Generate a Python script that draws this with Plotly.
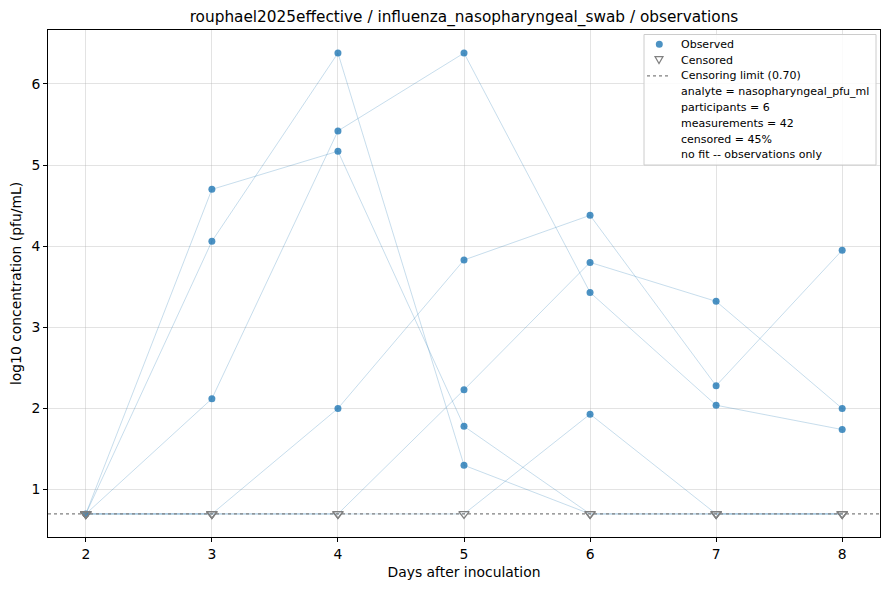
import plotly.graph_objects as go

days = [2, 3, 4, 5, 6, 7, 8]
limit = 0.70

# log10 pfu/mL per participant, one value per day
subjects = {
    "A": [0.70, 0.70, 2.00, 3.83, 4.38, 2.28, 3.95],
    "B": [0.70, 0.70, 0.70, 2.23, 3.80, 3.32, 2.00],
    "C": [0.70, 0.70, 0.70, 0.70, 1.93, 0.70, 0.70],
    "D": [0.70, 2.12, 5.42, 6.38, 3.43, 2.04, 1.74],
    "E": [0.70, 4.70, 5.17, 1.78, 0.70, 0.70, 0.70],
    "F": [0.70, 4.06, 6.38, 1.30, 0.70, 0.70, 0.70],
}
# 1 = below limit of detection
censored = {
    "A": [1, 1, 0, 0, 0, 0, 0],
    "B": [1, 1, 1, 0, 0, 0, 0],
    "C": [1, 1, 1, 1, 0, 1, 1],
    "D": [0, 0, 0, 0, 0, 0, 0],
    "E": [1, 0, 0, 0, 1, 1, 1],
    "F": [1, 0, 0, 0, 1, 1, 1],
}
legend_labels = ["Observed", "Censored", "Censoring limit (%.2f)" % limit]
info_lines = [
    "analyte = nasopharyngeal_pfu_ml",
    "participants = 6",
    "measurements = 42",
    "censored = 45%",
    "no fit -- observations only",
]

FONT = "DejaVu Sans"
BLUE = "rgba(31,119,180,0.8)"
fig = go.Figure()

for sid, vals in subjects.items():
    fig.add_trace(go.Scatter(x=days, y=vals, mode="lines",
                             line=dict(color="rgba(31,119,180,0.25)", width=1),
                             showlegend=False, hoverinfo="skip"))

obs_x, obs_y, cen_x, cen_y = [], [], [], []
for sid, vals in subjects.items():
    for d, v, c in zip(days, vals, censored[sid]):
        if c:
            cen_x.append(d); cen_y.append(v)
        else:
            obs_x.append(d); obs_y.append(v)

fig.add_trace(go.Scatter(x=obs_x, y=obs_y, mode="markers", showlegend=False,
                         marker=dict(color=BLUE, size=7, line=dict(width=0))))
fig.add_trace(go.Scatter(x=cen_x, y=cen_y, mode="markers", showlegend=False,
                         marker=dict(symbol="triangle-down-open", color="gray",
                                     size=9, line=dict(width=1.3))))
fig.add_hline(y=limit, line=dict(color="gray", width=1.3, dash="dot"))

# legend box drawn by hand (matplotlib-like row spacing)
PL, PR, PT, PB = 48, 880, 30, 537   # plot area in page pixels
def px(x):
    return (x - PL) / (PR - PL)
def py(y):
    return (PB - y) / (PB - PT)

fig.add_shape(type="rect", xref="paper", yref="paper",
              x0=px(644), x1=px(876), y0=py(34.5), y1=py(165),
              fillcolor="rgba(255,255,255,0.85)", line=dict(color="#cccccc", width=1))
row0, gap = 44.3, 15.8
fig.add_shape(type="circle", xref="paper", yref="paper",
              x0=px(655.8), x1=px(662.8), y0=py(row0 - 3.5), y1=py(row0 + 3.5),
              fillcolor=BLUE, line=dict(width=0))
r1 = row0 + gap
fig.add_shape(type="path", xref="paper", yref="paper",
              path="M %f %f L %f %f L %f %f Z" % (px(655), py(r1 - 3.5), px(663), py(r1 - 3.5),
                                                  px(659), py(r1 + 3.5)),
              line=dict(color="gray", width=1.2))
r2 = row0 + 2 * gap
fig.add_shape(type="line", xref="paper", yref="paper",
              x0=px(647), x1=px(670), y0=py(r2), y1=py(r2),
              line=dict(color="gray", width=1.3, dash="dot"))
for i, t in enumerate(legend_labels + info_lines):
    fig.add_annotation(x=px(679), y=py(row0 + i * gap), xref="paper", yref="paper",
                       text=t, showarrow=False, xanchor="left", yanchor="middle",
                       font=dict(size=11, family=FONT, color="black"))

axis = dict(showline=True, mirror=True, linecolor="black", linewidth=1,
            ticks="outside", ticklen=4, tickcolor="black", automargin=False,
            showgrid=True, gridcolor="rgba(176,176,176,0.35)", gridwidth=1,
            zeroline=False, tickfont=dict(size=13.9, color="black"))

# page has an 8px body offset, so the figure is 8px smaller than the window
fig.update_layout(
    width=881, height=582,
    margin=dict(l=40, r=9, t=22, b=53),
    paper_bgcolor="white", plot_bgcolor="white",
    font=dict(family=FONT, color="black"),
    showlegend=False,
    title=dict(text="rouphael2025effective / influenza_nasopharyngeal_swab / observations",
               x=0.5, xref="paper", y=1 - 9 / 582, yref="container", yanchor="middle",
               font=dict(size=15.3, family=FONT)),
    xaxis=dict(axis, range=[1.7, 8.3], tickvals=days,
               title=dict(text="Days after inoculation", font=dict(size=13.9), standoff=6)),
    yaxis=dict(axis, range=[0.416, 6.664], tickvals=[1, 2, 3, 4, 5, 6],
               title=dict(text="log10 concentration (pfu/mL)", font=dict(size=13.9), standoff=8)),
)

fig.write_html("out.html")
